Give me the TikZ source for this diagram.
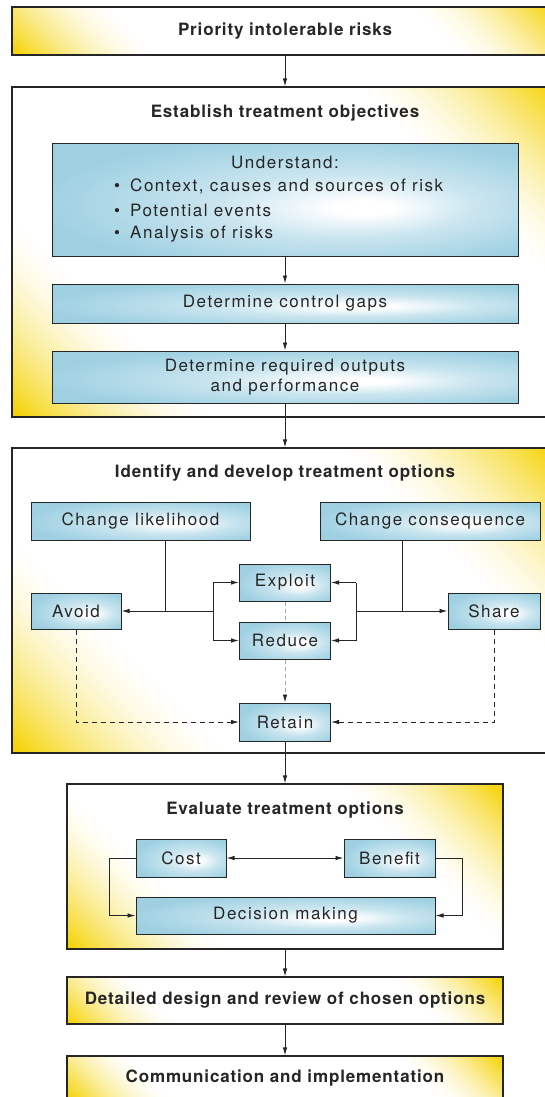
\documentclass[tikz,border=0pt]{standalone}
\usepackage{fontspec}
\setmainfont{TeX Gyre Heros}[LetterSpace=9, BoldFeatures={LetterSpace=5}]
\usetikzlibrary{arrows.meta}

\definecolor{gold}{RGB}{245,210,0}
\definecolor{aqua}{RGB}{158,208,226}
\definecolor{ink}{RGB}{38,38,38}

% light-blue panel with a soft off-centre highlight
\pgfdeclareradialshading{aquaglow}{\pgfpoint{9bp}{-4bp}}{%
  color(0bp)=(white); color(3bp)=(white); color(14bp)=(aqua!55!white); color(30bp)=(aqua); color(50bp)=(aqua)}

% white frame background with golden washes in the lower-left and upper-right corners
% #1,#2 = top-left corner, #3,#4 = bottom-right corner, #5 = reach of the wash
\newcommand\goldwash[5]{%
  \begin{scope}
    \clip (#1,#2) rectangle (#3,#4);
    \fill[white] (#1,#2) rectangle (#3,#4);
    \foreach \k in {0,...,31}{
      \pgfmathsetmacro\rr{#5*(1-\k/32)}
      \pgfmathsetmacro\pp{100*((\k+1)/32)^1.6}
      \fill[gold!\pp!white] (#1,#4) -- ++(\rr,0) -- ++(-\rr,-\rr) -- cycle;
      \fill[gold!\pp!white] (#3,#2) -- ++(-\rr,0) -- ++(\rr,\rr) -- cycle;
    }
  \end{scope}}

\begin{document}
\begin{tikzpicture}[x=1pt, y=-1pt,
  font=\fontsize{17}{20}\selectfont,
  every node/.style={text=ink},
  frame/.style={draw=ink, line width=1.1pt, inner sep=0pt},
  heading/.style={font=\fontsize{17}{20}\selectfont\bfseries, inner sep=0pt},
  panel/.style={draw=ink, line width=1pt, shade, shading=aquaglow, inner sep=0pt, align=center},
  plain/.style={inner sep=0pt},
  link/.style={draw=ink, line width=0.9pt},
  arrowed/.style={-{Latex[length=8pt,width=4.5pt]}},
  bothways/.style={{Latex[length=8pt,width=4.5pt]}-{Latex[length=8pt,width=4.5pt]}},
  dashlink/.style={draw=ink, line width=0.9pt, dash pattern=on 5pt off 4pt},
  faintlink/.style={draw=gray!70, line width=0.9pt, dash pattern=on 4pt off 3pt}]

\clip (0,0) rectangle (545,1097);

% ---- Priority intolerable risks
\goldwash{12}{7}{558}{55}{145}
\node[frame, heading, minimum width=546pt, minimum height=48pt] (prio) at (285,31) {Priority intolerable risks};

% ---- Establish treatment objectives
\goldwash{12}{87}{558}{417}{200}
\node[frame, minimum width=546pt, minimum height=330pt] (objectives) at (285,252) {};
\node[heading] (objT) at (285,113) {Establish treatment objectives};

\node[panel, minimum width=466pt, minimum height=113pt] (understand) at (285,199.5) {};
\node[plain] (u0) at (285,162) {Understand:};
\node[plain, anchor=west] (u1) at (114,186) {\makebox[16pt][l]{\textbullet}Context, causes and sources of risk};
\node[plain, anchor=west] (u2) at (114,210) {\makebox[16pt][l]{\textbullet}Potential events};
\node[plain, anchor=west] (u3) at (114,234) {\makebox[16pt][l]{\textbullet}Analysis of risks};

\node[panel, minimum width=466pt, minimum height=39pt] (gaps) at (285,303.5) {Determine control gaps};
\node[panel, minimum width=466pt, minimum height=52pt] (req) at (285,377) {Determine required outputs\\and performance};

% ---- Identify and develop treatment options
\goldwash{12}{448}{558}{753}{215}
\node[frame, minimum width=546pt, minimum height=305pt] (options) at (285,600.5) {};
\node[heading] (optT) at (285,473) {Identify and develop treatment options};

\node[panel, minimum width=219pt, minimum height=38pt] (likely) at (140.5,521) {Change likelihood};
\node[panel, minimum width=220pt, minimum height=38pt] (conseq) at (430,521) {Change consequence};
\node[panel, minimum width=91pt, minimum height=37pt] (exploit) at (285,582.5) {Exploit};
\node[panel, minimum width=91pt, minimum height=37pt] (reduce) at (285,640.5) {Reduce};
\node[panel, minimum width=90pt, minimum height=36pt] (avoid) at (76,611) {Avoid};
\node[panel, minimum width=92pt, minimum height=36pt] (share) at (494,611) {Share};
\node[panel, minimum width=91pt, minimum height=38pt] (retain) at (285,722) {Retain};

% ---- Evaluate treatment options
\goldwash{67}{784}{503}{949}{160}
\node[frame, minimum width=436pt, minimum height=165pt] (evaluate) at (285,866.5) {};
\node[heading] (evalT) at (285,810) {Evaluate treatment options};

\node[panel, minimum width=90pt, minimum height=38pt] (cost) at (181,858) {Cost};
\node[panel, minimum width=91pt, minimum height=38pt] (benefit) at (389.5,858) {Benefit};
\node[panel, minimum width=299pt, minimum height=37pt] (decision) at (285.5,915.5) {Decision making};

% ---- Detailed design / Communication
\goldwash{67}{977}{503}{1024}{110}
\node[frame, heading, minimum width=436pt, minimum height=47pt] (design) at (285,1000.5) {Detailed design and review of chosen options};
\goldwash{67}{1056}{503}{1100}{105}
\node[frame, heading, minimum width=436pt, minimum height=44pt] (comm) at (285,1078) {Communication and implementation};

% ---- main flow
\draw[link, arrowed] (prio.south) -- (objectives.north);
\draw[link, arrowed] (understand.south) -- (gaps.north);
\draw[link, arrowed] (gaps.south) -- (req.north);
\draw[link, arrowed] (req.south) -- (options.north);
\draw[link, arrowed] (retain.south) -- (evaluate.north);
\draw[link, arrowed] (evaluate.south) -- (design.north);
\draw[link, arrowed] (design.south) -- (comm.north);

% ---- treatment option branches
\coordinate (lk) at (165,611);
\coordinate (lf) at (213,611);
\coordinate (ck) at (402,611);
\coordinate (rf) at (356,611);

\draw[link] (likely.south -| lk) -- (lk);
\draw[link, arrowed] (lf) -- (avoid.east);
\draw[link] (lf |- exploit.west) -- (lf |- reduce.west);
\draw[link, arrowed] (lf |- exploit.west) -- (exploit.west);
\draw[link, arrowed] (lf |- reduce.west) -- (reduce.west);

\draw[link] (conseq.south -| ck) -- (ck);
\draw[link, arrowed] (rf) -- (share.west);
\draw[link] (rf |- exploit.east) -- (rf |- reduce.east);
\draw[link, arrowed] (rf |- exploit.east) -- (exploit.east);
\draw[link, arrowed] (rf |- reduce.east) -- (reduce.east);

\draw[faintlink] (exploit.south) -- (reduce.north);
\draw[faintlink, -{Latex[length=8pt,width=4.5pt,color=ink]}] (reduce.south) -- (retain.north);
\draw[dashlink, arrowed] (avoid.south) |- (retain.west);
\draw[dashlink, arrowed] (share.south) |- (retain.east);

% ---- evaluation loop
\coordinate (cl) at (109,858);
\coordinate (br) at (462,858);
\draw[link, bothways] (cost.east) -- (benefit.west);
\draw[link, arrowed] (cost.west) -- (cl) |- (decision.west);
\draw[link, arrowed] (benefit.east) -- (br) |- (decision.east);

\end{tikzpicture}
\end{document}
